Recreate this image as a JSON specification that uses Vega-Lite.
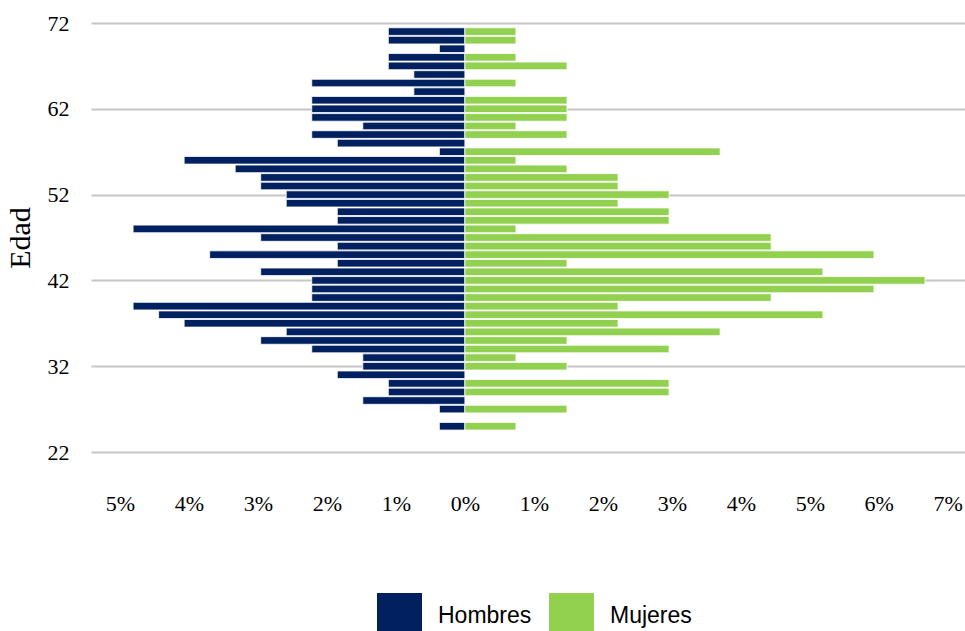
{
  "$schema": "https://vega.github.io/schema/vega-lite/v6.json",
  "autosize": {"type": "none"},
  "width": 874,
  "height": 429,
  "padding": {"left": 91, "top": 23, "right": 0, "bottom": 179},
  "background": "white",
  "data": {
    "values": [
      {"sexo": "Hombres", "edad": 71, "pct": -1.11},
      {"sexo": "Hombres", "edad": 70, "pct": -1.11},
      {"sexo": "Hombres", "edad": 69, "pct": -0.37},
      {"sexo": "Hombres", "edad": 68, "pct": -1.11},
      {"sexo": "Hombres", "edad": 67, "pct": -1.11},
      {"sexo": "Hombres", "edad": 66, "pct": -0.74},
      {"sexo": "Hombres", "edad": 65, "pct": -2.22},
      {"sexo": "Hombres", "edad": 64, "pct": -0.74},
      {"sexo": "Hombres", "edad": 63, "pct": -2.22},
      {"sexo": "Hombres", "edad": 62, "pct": -2.22},
      {"sexo": "Hombres", "edad": 61, "pct": -2.22},
      {"sexo": "Hombres", "edad": 60, "pct": -1.48},
      {"sexo": "Hombres", "edad": 59, "pct": -2.22},
      {"sexo": "Hombres", "edad": 58, "pct": -1.85},
      {"sexo": "Hombres", "edad": 57, "pct": -0.37},
      {"sexo": "Hombres", "edad": 56, "pct": -4.07},
      {"sexo": "Hombres", "edad": 55, "pct": -3.33},
      {"sexo": "Hombres", "edad": 54, "pct": -2.96},
      {"sexo": "Hombres", "edad": 53, "pct": -2.96},
      {"sexo": "Hombres", "edad": 52, "pct": -2.59},
      {"sexo": "Hombres", "edad": 51, "pct": -2.59},
      {"sexo": "Hombres", "edad": 50, "pct": -1.85},
      {"sexo": "Hombres", "edad": 49, "pct": -1.85},
      {"sexo": "Hombres", "edad": 48, "pct": -4.81},
      {"sexo": "Hombres", "edad": 47, "pct": -2.96},
      {"sexo": "Hombres", "edad": 46, "pct": -1.85},
      {"sexo": "Hombres", "edad": 45, "pct": -3.70},
      {"sexo": "Hombres", "edad": 44, "pct": -1.85},
      {"sexo": "Hombres", "edad": 43, "pct": -2.96},
      {"sexo": "Hombres", "edad": 42, "pct": -2.22},
      {"sexo": "Hombres", "edad": 41, "pct": -2.22},
      {"sexo": "Hombres", "edad": 40, "pct": -2.22},
      {"sexo": "Hombres", "edad": 39, "pct": -4.81},
      {"sexo": "Hombres", "edad": 38, "pct": -4.44},
      {"sexo": "Hombres", "edad": 37, "pct": -4.07},
      {"sexo": "Hombres", "edad": 36, "pct": -2.59},
      {"sexo": "Hombres", "edad": 35, "pct": -2.96},
      {"sexo": "Hombres", "edad": 34, "pct": -2.22},
      {"sexo": "Hombres", "edad": 33, "pct": -1.48},
      {"sexo": "Hombres", "edad": 32, "pct": -1.48},
      {"sexo": "Hombres", "edad": 31, "pct": -1.85},
      {"sexo": "Hombres", "edad": 30, "pct": -1.11},
      {"sexo": "Hombres", "edad": 29, "pct": -1.11},
      {"sexo": "Hombres", "edad": 28, "pct": -1.48},
      {"sexo": "Hombres", "edad": 27, "pct": -0.37},
      {"sexo": "Hombres", "edad": 25, "pct": -0.37},
      {"sexo": "Mujeres", "edad": 71, "pct": 0.74},
      {"sexo": "Mujeres", "edad": 70, "pct": 0.74},
      {"sexo": "Mujeres", "edad": 68, "pct": 0.74},
      {"sexo": "Mujeres", "edad": 67, "pct": 1.48},
      {"sexo": "Mujeres", "edad": 65, "pct": 0.74},
      {"sexo": "Mujeres", "edad": 63, "pct": 1.48},
      {"sexo": "Mujeres", "edad": 62, "pct": 1.48},
      {"sexo": "Mujeres", "edad": 61, "pct": 1.48},
      {"sexo": "Mujeres", "edad": 60, "pct": 0.74},
      {"sexo": "Mujeres", "edad": 59, "pct": 1.48},
      {"sexo": "Mujeres", "edad": 57, "pct": 3.70},
      {"sexo": "Mujeres", "edad": 56, "pct": 0.74},
      {"sexo": "Mujeres", "edad": 55, "pct": 1.48},
      {"sexo": "Mujeres", "edad": 54, "pct": 2.22},
      {"sexo": "Mujeres", "edad": 53, "pct": 2.22},
      {"sexo": "Mujeres", "edad": 52, "pct": 2.96},
      {"sexo": "Mujeres", "edad": 51, "pct": 2.22},
      {"sexo": "Mujeres", "edad": 50, "pct": 2.96},
      {"sexo": "Mujeres", "edad": 49, "pct": 2.96},
      {"sexo": "Mujeres", "edad": 48, "pct": 0.74},
      {"sexo": "Mujeres", "edad": 47, "pct": 4.44},
      {"sexo": "Mujeres", "edad": 46, "pct": 4.44},
      {"sexo": "Mujeres", "edad": 45, "pct": 5.93},
      {"sexo": "Mujeres", "edad": 44, "pct": 1.48},
      {"sexo": "Mujeres", "edad": 43, "pct": 5.19},
      {"sexo": "Mujeres", "edad": 42, "pct": 6.67},
      {"sexo": "Mujeres", "edad": 41, "pct": 5.93},
      {"sexo": "Mujeres", "edad": 40, "pct": 4.44},
      {"sexo": "Mujeres", "edad": 39, "pct": 2.22},
      {"sexo": "Mujeres", "edad": 38, "pct": 5.19},
      {"sexo": "Mujeres", "edad": 37, "pct": 2.22},
      {"sexo": "Mujeres", "edad": 36, "pct": 3.70},
      {"sexo": "Mujeres", "edad": 35, "pct": 1.48},
      {"sexo": "Mujeres", "edad": 34, "pct": 2.96},
      {"sexo": "Mujeres", "edad": 33, "pct": 0.74},
      {"sexo": "Mujeres", "edad": 32, "pct": 1.48},
      {"sexo": "Mujeres", "edad": 30, "pct": 2.96},
      {"sexo": "Mujeres", "edad": 29, "pct": 2.96},
      {"sexo": "Mujeres", "edad": 27, "pct": 1.48},
      {"sexo": "Mujeres", "edad": 25, "pct": 0.74}
    ]
  },
  "mark": {"type": "bar", "orient": "horizontal", "size": 7.6, "stroke": "white", "strokeWidth": 0.8},
  "encoding": {
    "y": {
      "field": "edad",
      "type": "quantitative",
      "scale": {"domain": [22, 72], "nice": false, "zero": false, "padding": 0},
      "axis": {
        "values": [22, 32, 42, 52, 62, 72],
        "title": "Edad",
        "titleFont": "Liberation Serif",
        "titleFontSize": 30,
        "titleFontWeight": "normal",
        "titleColor": "black",
        "titlePadding": 12,
        "labelFont": "Liberation Serif",
        "labelFontSize": 22,
        "labelColor": "black",
        "labelPadding": 22,
        "ticks": false,
        "domain": false,
        "grid": true,
        "gridColor": "#C6C6C6",
        "gridWidth": 2
      }
    },
    "x": {
      "field": "pct",
      "type": "quantitative",
      "stack": null,
      "scale": {"domain": [-5.42, 7.25], "nice": false, "zero": false, "padding": 0},
      "axis": {
        "values": [-5, -4, -3, -2, -1, 0, 1, 2, 3, 4, 5, 6, 7],
        "labelExpr": "abs(datum.value) + '%'",
        "title": null,
        "grid": false,
        "ticks": false,
        "domain": false,
        "labelFont": "Liberation Serif",
        "labelFontSize": 22,
        "labelColor": "black",
        "labelPadding": 41
      }
    },
    "color": {
      "field": "sexo",
      "type": "nominal",
      "scale": {"domain": ["Hombres", "Mujeres"], "range": ["#002060", "#92D050"]},
      "legend": {
        "title": null,
        "orient": "none",
        "legendX": 286,
        "legendY": 570,
        "direction": "horizontal",
        "symbolType": "square",
        "symbolSize": 2025,
        "symbolStrokeWidth": 0,
        "labelFont": "Liberation Sans",
        "labelFontSize": 23,
        "labelColor": "black",
        "labelOffset": 16,
        "columnPadding": 17,
        "padding": 0
      }
    }
  },
  "config": {"view": {"stroke": null}}
}
